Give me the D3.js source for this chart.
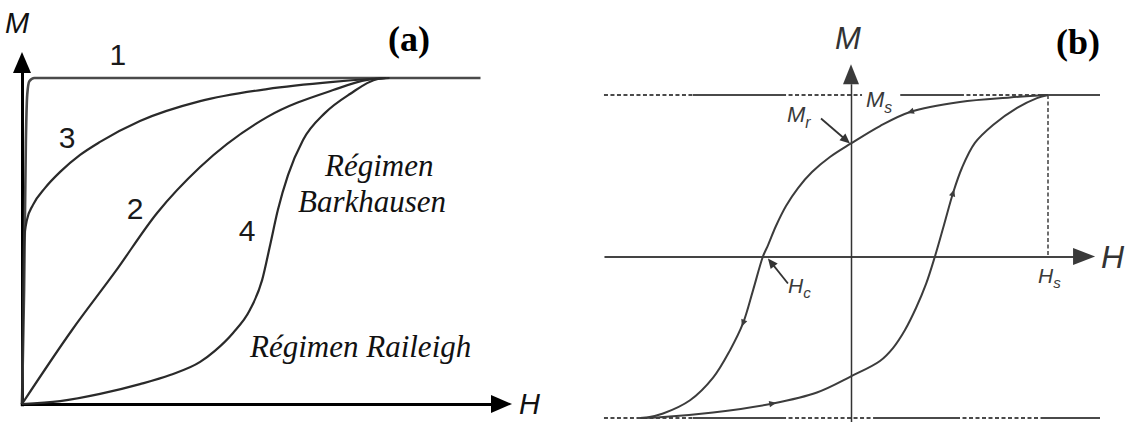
<!DOCTYPE html>
<html>
<head>
<meta charset="utf-8">
<script src="https://cdn.jsdelivr.net/npm/d3@7"></script>
<style>
  html, body { margin: 0; padding: 0; background: #fff; }
  svg { display: block; }
</style>
</head>
<body>
<svg id="chart" width="1130" height="422"></svg>
<script>
// ---------- Panel (a): initial magnetisation curves (H, M normalised to saturation) ----------
const curve1 = [[0,0],[0.006,0.35],[0.011,0.8],[0.015,0.95],[0.021,0.99],[0.035,1],[1.31,1]];
const curve2 = [[0,0],[0.143,0.227],[0.266,0.405],[0.386,0.586],[0.509,0.727],[0.70,0.88],[0.889,0.963],[0.986,0.994],[1.04,1]];
const curve3 = [[0,0],[0.003,0.30],[0.006,0.503],[0.014,0.564],[0.031,0.610],[0.066,0.663],[0.109,0.712],[0.166,0.764],[0.223,0.804],[0.337,0.868],[0.509,0.929],[0.70,0.966],[0.889,0.988],[0.994,0.997],[1.037,1]];
const curve4 = [[0,0],[0.109,0.009],[0.223,0.031],[0.337,0.061],[0.423,0.089],[0.509,0.129],[0.551,0.163],[0.603,0.218],[0.651,0.288],[0.686,0.380],[0.709,0.488],[0.731,0.595],[0.76,0.702],[0.803,0.81],[0.866,0.893],[0.937,0.951],[1.017,0.997],[1.05,1]];
const curveNames = ["1", "2", "3", "4"];
const regimeLabels = ["Régimen", "Barkhausen", "Régimen Raileigh"];

// ---------- Panel (b): hysteresis loop ----------
const upperBranch = [[1,1],[0.807,0.985],[0.553,0.957],[0.30,0.895],[0.147,0.808],[0,0.70],[-0.107,0.616],[-0.198,0.523],[-0.269,0.424],[-0.330,0.313],[-0.381,0.189],[-0.421,0.071],[-0.447,0],[-0.497,-0.208],[-0.548,-0.413],[-0.614,-0.58],[-0.70,-0.75],[-0.817,-0.89],[-0.954,-0.972],[-1.036,-0.997],[-1.07,-1]];
const lowerBranch = [[-1.07,-1],[-0.985,-0.997],[-0.70,-0.966],[-0.396,-0.91],[-0.173,-0.842],[0,-0.742],[0.147,-0.647],[0.213,-0.567],[0.274,-0.455],[0.330,-0.319],[0.381,-0.170],[0.426,0],[0.472,0.195],[0.518,0.393],[0.563,0.548],[0.629,0.703],[0.721,0.814],[0.843,0.920],[0.944,0.981],[1,1]];
const remanence = 0.70;     // M_r
const coercive = -0.447;    // H_c
const saturationH = 1;      // H_s
const saturationM = 1;      // M_s
const upperArrowsAt = [0.30, -0.548];
const lowerArrowsAt = [-0.396, 0.518];

const svg = d3.select("#chart");

// Filled triangle pointing along +x, rotated into place
function triangle(g, x, y, angleDeg, len, half, fill) {
  g.append("path")
    .attr("d", `M0,0 L${-len},${-half} L${-len},${half} Z`)
    .attr("transform", `translate(${x},${y}) rotate(${angleDeg})`)
    .attr("fill", fill);
}

const serif = "'Liberation Serif', 'Times New Roman', Times, serif";
const sansItalic = "'Liberation Sans', Arial, Helvetica, sans-serif";

// ================= Panel (a) =================
const xA = d3.scaleLinear().domain([0, 1]).range([22, 372]);
const yA = d3.scaleLinear().domain([0, 1]).range([404, 78]);
const gA = svg.append("g");

// axes drawn as bare domain lines
const xAxisA = d3.scaleLinear().domain([-0.005, 1.345]).range([xA(-0.005), xA(1.345)]);
const yAxisA = d3.scaleLinear().domain([-0.005, 1.02]).range([yA(-0.005), yA(1.02)]);
gA.append("g").attr("transform", `translate(0,${yA(0)})`)
  .call(d3.axisBottom(xAxisA).tickValues([]).tickSizeOuter(0))
  .call(g => g.select(".domain").attr("stroke", "#000").attr("stroke-width", 3));
gA.append("g").attr("transform", `translate(${xA(0)},0)`)
  .call(d3.axisLeft(yAxisA).tickValues([]).tickSizeOuter(0))
  .call(g => g.select(".domain").attr("stroke", "#000").attr("stroke-width", 3));
triangle(gA, xA(1.4), yA(0), 0, 21, 9, "#000");
triangle(gA, xA(0), yA(1.08), -90, 21, 9, "#000");

const lineA = d3.line().x(d => xA(d[0])).y(d => yA(d[1])).curve(d3.curveMonotoneX);
const curvesA = [curve1, curve2, curve3, curve4];
curvesA.forEach((c, i) => {
  gA.append("path").datum(c)
    .attr("d", lineA)
    .attr("fill", "none")
    .attr("stroke", i === 0 ? "#4a4a4a" : "#2a2a2a")
    .attr("stroke-width", i === 0 ? 2.6 : 2.2)
    .attr("stroke-linejoin", "round");
});

// curve numbers
const nameAnchors = [[0.274, 1.04], [0.323, 0.566], [0.129, 0.786], [0.643, 0.50]];
curveNames.forEach((n, i) => {
  gA.append("text")
    .attr("x", xA(nameAnchors[i][0])).attr("y", yA(nameAnchors[i][1]))
    .attr("text-anchor", "middle")
    .attr("font-family", sansItalic)
    .attr("font-size", 30).attr("fill", "#1a1a1a")
    .text(n);
});

const regimeAttrs = sel => sel.attr("font-family", serif).attr("font-style", "italic")
  .attr("font-size", 31).attr("fill", "#111");
gA.append("text").attr("x", 325).attr("y", 176).call(regimeAttrs).text(regimeLabels[0]);
gA.append("text").attr("x", 298).attr("y", 212).call(regimeAttrs).text(regimeLabels[1]);
gA.append("text").attr("x", 250).attr("y", 357).call(regimeAttrs).text(regimeLabels[2]);

gA.append("text").attr("x", 5).attr("y", 33)
  .attr("font-family", sansItalic).attr("font-style", "italic").attr("font-size", 29)
  .attr("fill", "#111").text("M");
gA.append("text").attr("x", 519).attr("y", 414)
  .attr("font-family", sansItalic).attr("font-style", "italic").attr("font-size", 29)
  .attr("fill", "#111").text("H");
gA.append("text").attr("x", 388).attr("y", 51)
  .attr("font-family", serif).attr("font-weight", "bold").attr("font-size", 36)
  .text("(a)");

// ================= Panel (b) =================
const xB = d3.scaleLinear().domain([-1, 1]).range([654, 1048]);
const yB = d3.scaleLinear().domain([-1, 1]).range([418, 95]);
const gB = svg.append("g");
const ink = "#3c3c3c";

// mixed dashed / solid pattern along the saturation lines
function dashArray(segments) {
  const out = [];
  segments.forEach(([a, b, kind]) => {
    const L = xB(b) - xB(a);
    if (kind === "solid") { out.push(L, 0); }
    else if (kind === "gap") { out.push(0, L); }
    else {
      const n = Math.floor(L / 6.5);
      for (let k = 0; k < n; k++) out.push(4, 2.5);
      const r = L - n * 6.5;
      out.push(Math.min(r, 4), Math.max(r - 4, 0));
    }
  });
  return out.join(",");
}
const lineStart = -1.254, lineEnd = 1.264;
const topPattern = [[lineStart,-0.802,"dash"],[-0.802,-0.350,"solid"],[-0.350,0.056,"dash"],[0.056,0.25,"gap"],[0.25,0.553,"solid"],[0.553,0.959,"dash"],[0.959,lineEnd,"solid"]];
const bottomPattern = [[lineStart,-0.802,"dash"],[-0.802,-0.350,"solid"],[-0.350,0.112,"dash"],[0.112,0.533,"solid"],[0.533,0.975,"dash"],[0.975,lineEnd,"solid"]];

gB.append("line")
  .attr("x1", xB(lineStart)).attr("x2", xB(lineEnd))
  .attr("y1", yB(saturationM)).attr("y2", yB(saturationM))
  .attr("stroke", "#4a4a4a").attr("stroke-width", 2.2)
  .attr("stroke-dasharray", dashArray(topPattern));
gB.append("line")
  .attr("x1", xB(lineStart)).attr("x2", xB(lineEnd))
  .attr("y1", yB(-saturationM)).attr("y2", yB(-saturationM))
  .attr("stroke", "#4a4a4a").attr("stroke-width", 2.2)
  .attr("stroke-dasharray", dashArray(bottomPattern));

// H_s guide
gB.append("line")
  .attr("x1", xB(saturationH)).attr("x2", xB(saturationH))
  .attr("y1", yB(saturationM)).attr("y2", yB(0))
  .attr("stroke", "#4a4a4a").attr("stroke-width", 1.6)
  .attr("stroke-dasharray", "4,2.5");

// axes
const xAxisB = d3.scaleLinear().domain([lineStart, 1.13]).range([xB(lineStart), xB(1.13)]);
const yAxisB = d3.scaleLinear().domain([-1.03, 1.07]).range([yB(-1.03), yB(1.07)]);
gB.append("g").attr("transform", `translate(0,${yB(0)})`)
  .call(d3.axisBottom(xAxisB).tickValues([]).tickSizeOuter(0))
  .call(g => g.select(".domain").attr("stroke", "#444").attr("stroke-width", 2));
gB.append("g").attr("transform", `translate(${xB(0)},0)`)
  .call(d3.axisLeft(yAxisB).tickValues([]).tickSizeOuter(0))
  .call(g => g.select(".domain").attr("stroke", "#333").attr("stroke-width", 1.5));
triangle(gB, xB(1.239), yB(0), 0, 22, 8.5, "#3a3a3a");
triangle(gB, xB(0), yB(1.19), -90, 20, 8, "#3a3a3a");

// loop branches
const lineB = d3.line().x(d => xB(d[0])).y(d => yB(d[1])).curve(d3.curveCatmullRom.alpha(0.5));
const upperPath = gB.append("path").datum(upperBranch).attr("d", lineB)
  .attr("fill", "none").attr("stroke", ink).attr("stroke-width", 2);
const lowerPath = gB.append("path").datum(lowerBranch).attr("d", lineB)
  .attr("fill", "none").attr("stroke", ink).attr("stroke-width", 2);

// direction markers along each branch
function markAlong(pathSel, targets) {
  const node = pathSel.node();
  const total = node.getTotalLength();
  targets.forEach(h => {
    const tx = xB(h);
    let best = 0, bestD = Infinity;
    for (let l = 0; l <= total; l += 0.5) {
      const p = node.getPointAtLength(l);
      const d = Math.abs(p.x - tx);
      if (d < bestD) { bestD = d; best = l; }
    }
    const p0 = node.getPointAtLength(Math.max(best - 2, 0));
    const p1 = node.getPointAtLength(Math.min(best + 2, total));
    const ang = Math.atan2(p1.y - p0.y, p1.x - p0.x) * 180 / Math.PI;
    const p = node.getPointAtLength(best);
    const c = Math.cos(ang * Math.PI / 180), s = Math.sin(ang * Math.PI / 180);
    triangle(gB, p.x + 3.5 * c, p.y + 3.5 * s, ang, 7, 3.2, ink);
  });
}
markAlong(upperPath, upperArrowsAt);
markAlong(lowerPath, lowerArrowsAt);

// pointer arrows to M_r and H_c
function pointer(tipX, tipY, dx, dy) {
  const ang = Math.atan2(-dy, -dx) * 180 / Math.PI;
  gB.append("line")
    .attr("x1", tipX + dx).attr("y1", tipY + dy)
    .attr("x2", tipX - 6 * Math.cos(ang * Math.PI / 180)).attr("y2", tipY - 6 * Math.sin(ang * Math.PI / 180))
    .attr("stroke", "#333").attr("stroke-width", 1.8);
  triangle(gB, tipX, tipY, ang, 10, 4.5, "#333");
}
pointer(xB(0) - 1, yB(remanence), -29, -25);
pointer(xB(coercive) + 5, yB(0) + 2, 20, 25);

// subscripted labels
function subLabel(x, y, main, sub, size) {
  const t = gB.append("text").attr("x", x).attr("y", y)
    .attr("font-family", sansItalic).attr("font-style", "italic")
    .attr("font-size", size).attr("fill", "#3a3a3a");
  t.append("tspan").text(main);
  t.append("tspan").attr("font-size", size * 0.72).attr("dy", size * 0.26).text(sub);
}
subLabel(787, 122, "M", "r", 22);
subLabel(866, 107, "M", "s", 22);
subLabel(788, 293, "H", "c", 21);
subLabel(1038, 283, "H", "s", 21);

gB.append("text").attr("x", 835).attr("y", 49)
  .attr("font-family", sansItalic).attr("font-style", "italic").attr("font-size", 31)
  .attr("fill", "#333").text("M");
gB.append("text").attr("x", 1101).attr("y", 268)
  .attr("font-family", sansItalic).attr("font-style", "italic").attr("font-size", 32)
  .attr("fill", "#333").text("H");
gB.append("text").attr("x", 1056).attr("y", 54)
  .attr("font-family", serif).attr("font-weight", "bold").attr("font-size", 36)
  .text("(b)");
</script>
</body>
</html>
